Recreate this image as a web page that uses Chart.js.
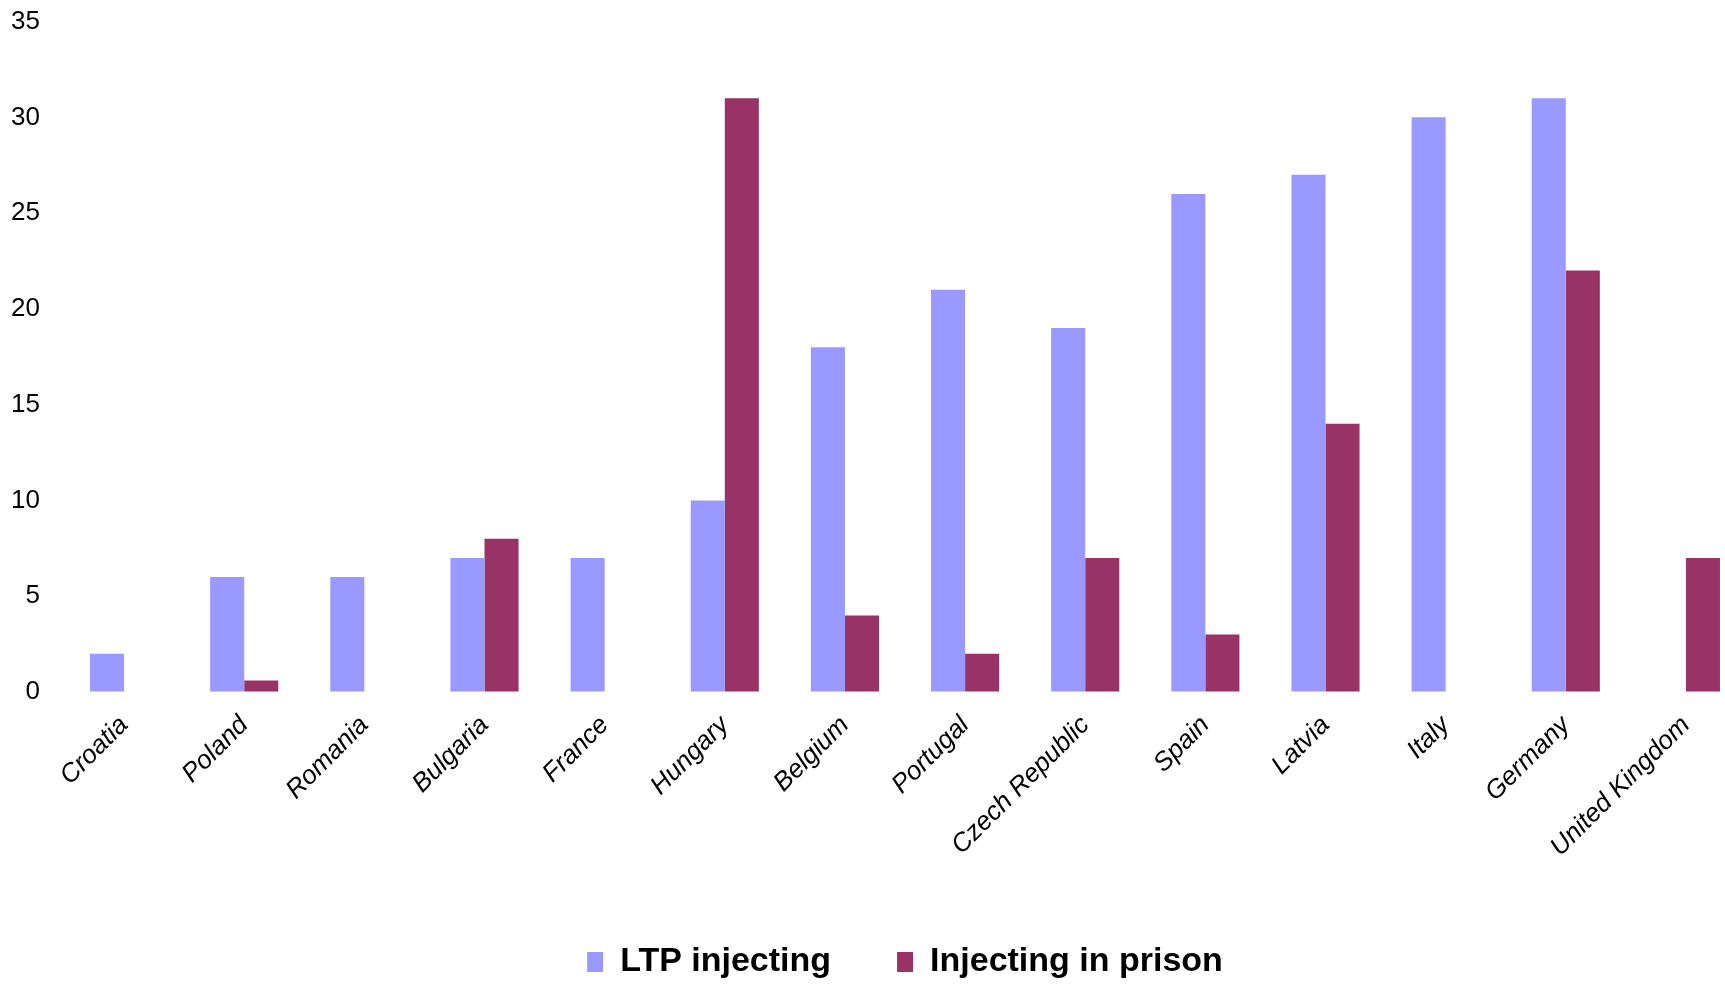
<!DOCTYPE html>
<html>
<head>
<meta charset="utf-8">
<script src="https://cdn.jsdelivr.net/npm/chart.js@4.4.0/dist/chart.umd.min.js"></script>
<style>
  html, body { margin: 0; padding: 0; background: #fff; overflow: hidden; }
  #wrap { width: 1760px; height: 989px; }
</style>
</head>
<body>
<div id="wrap"><canvas id="chart" width="1760" height="989"></canvas></div>
<script>
// countries along the x axis
var countries = ["Croatia", "Poland", "Romania", "Bulgaria", "France", "Hungary", "Belgium",
                 "Portugal", "Czech Republic", "Spain", "Latvia", "Italy", "Germany", "United Kingdom"];

// LTP injecting (%)
var ltpInjecting = [2, 6, 6, 7, 7, 10, 18, 21, 19, 26, 27, 30, 31, null];

// Injecting in prison (%)
var prisonInjecting = [null, 0.6, null, 8, null, 31, 4, 2, 7, 3, 14, null, 22, 7];

var yTicks = { min: 0, max: 35, step: 5 };

var font = "'Liberation Sans', Arial, sans-serif";

var ctx = document.getElementById("chart").getContext("2d");

var chart = new Chart(ctx, {
  type: 'bar',
  data: {
    labels: countries,
    datasets: [
      {
        label: "LTP injecting",
        data: ltpInjecting,
        backgroundColor: "#9999FF",
        borderWidth: 0
      },
      {
        label: "Injecting in prison",
        data: prisonInjecting,
        backgroundColor: "#993366",
        borderWidth: 0
      }
    ]
  },
  options: {
    responsive: false,
    animation: false,
    layout: { padding: { top: 0, left: 0, right: 14, bottom: 0 } },
    datasets: {
      bar: { categoryPercentage: 0.567, barPercentage: 1.0 }
    },
    scales: {
      x: {
        grid: { display: false, drawTicks: false },
        border: { display: false },
        ticks: {
          color: "#000",
          font: { family: font, size: 26, style: 'italic' },
          minRotation: 45,
          maxRotation: 45,
          padding: 18,
          autoSkip: false
        },
        afterFit: function (scale) { scale.height = 187; }
      },
      y: {
        min: yTicks.min,
        max: yTicks.max,
        // invisible tick marks keep the labels away from the bars
        grid: { display: true, drawOnChartArea: false, drawTicks: true, tickLength: 18, color: "rgba(0,0,0,0)" },
        border: { display: false },
        ticks: {
          stepSize: yTicks.step,
          color: "#000",
          font: { family: font, size: 26 },
          padding: 6
        },
        afterFit: function (scale) { scale.width = 64; }
      }
    },
    plugins: {
      tooltip: { enabled: false },
      legend: {
        position: 'bottom',
        fullSize: false,
        labels: {
          color: "#000",
          font: { family: font, size: 34, weight: 'bold' },
          boxWidth: 16,
          boxHeight: 20,
          padding: 66
        }
      }
    }
  }
});
</script>
</body>
</html>
